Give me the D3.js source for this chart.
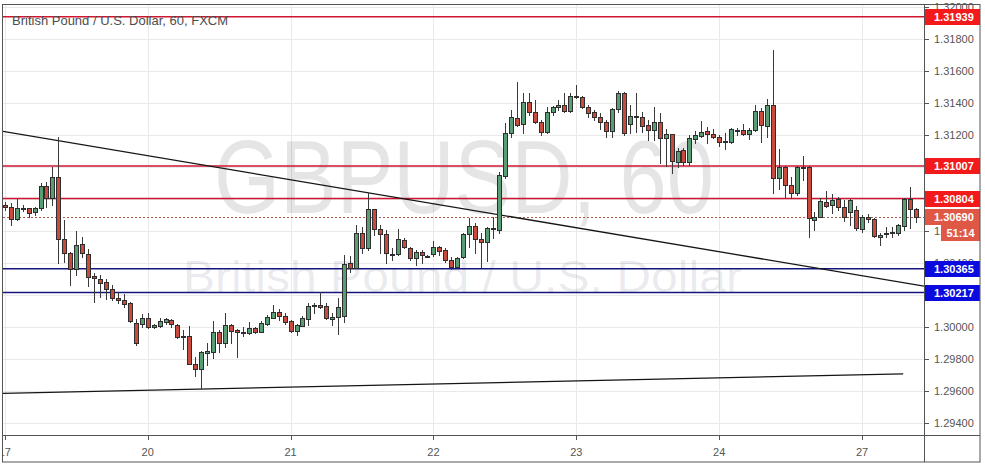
<!DOCTYPE html>
<html><head><meta charset="utf-8">
<script src="https://cdn.jsdelivr.net/npm/d3@7"></script>
<style>html,body{margin:0;padding:0;background:#fff;}svg{display:block;}</style>
</head><body>
<svg id="chart" width="985" height="467"></svg>
<script>
// ---------- DATA ----------
const title = "British Pound / U.S. Dollar, 60, FXCM";
const watermarkMain = "GBPUSD, 60";
const watermarkSub = "British Pound / U.S. Dollar";
const dayLabels = ["17", "20", "21", "22", "23", "24", "27"];
const dayStartIndex = [0, 24, 48, 72, 96, 120, 144];
const yTickValues = [1.294, 1.296, 1.298, 1.300, 1.302, 1.304, 1.306, 1.308, 1.310, 1.312, 1.314, 1.316, 1.318, 1.320];
const resistanceLevels = [1.31939, 1.31007, 1.30804];
const supportLevels = [1.30365, 1.30217];
const lastPrice = 1.30690;
const countdown = "51:14";
const trendDown = [[-0.8, 1.31226], [154.4, 1.30257]];
const trendUp = [[-0.3, 1.29587], [150.9, 1.29709]];

const opens = [1.30764,1.30753,1.30675,1.30742,1.30743,1.30718,1.30747,1.30883,1.30810,1.30941,
1.30550,1.30462,1.30364,1.30519,1.30456,1.30321,1.30302,1.30281,1.30238,1.30185,
1.30169,1.30150,1.30025,1.30021,1.30057,1.30000,1.30010,1.30035,1.30046,1.30015,
1.29948,1.29948,1.29769,1.29738,1.29842,1.29848,1.29969,1.29904,1.30015,1.29983,
1.29963,1.29963,1.29994,1.29973,1.30021,1.30060,1.30094,1.30069,1.30040,1.29979,
1.30010,1.30050,1.30133,1.30140,1.30133,1.30050,1.30063,1.30069,1.30400,1.30373,
1.30587,1.30494,1.30737,1.30612,1.30581,1.30460,1.30458,1.30546,1.30498,1.30435,
1.30472,1.30448,1.30458,1.30500,1.30483,1.30421,1.30375,1.30438,1.30583,1.30633,
1.30550,1.30535,1.30614,1.30608,1.30945,1.31212,1.31305,1.31268,1.31409,1.31347,
1.31284,1.31222,1.31347,1.31374,1.31388,1.31353,1.31445,1.31436,1.31374,1.31343,
1.31315,1.31280,1.31228,1.31362,1.31461,1.31270,1.31322,1.31312,1.31264,1.31232,
1.31284,1.31184,1.31205,1.31034,1.31107,1.31034,1.31174,1.31197,1.31226,1.31205,
1.31187,1.31162,1.31159,1.31230,1.31232,1.31205,1.31232,1.31351,1.31259,1.31388,
1.30931,1.31003,1.30889,1.30837,1.31003,1.31003,1.30670,1.30691,1.30785,1.30764,
1.30800,1.30750,1.30722,1.30733,1.30612,1.30691,1.30677,1.30566,1.30583,1.30589,
1.30587,1.30633,1.30801,1.30737];
const highs = [1.30785,1.30778,1.30800,1.30764,1.30745,1.30753,1.30903,1.30910,1.31003,1.31189,
1.30670,1.30470,1.30603,1.30562,1.30487,1.30338,1.30327,1.30302,1.30264,1.30223,
1.30206,1.30155,1.30050,1.30083,1.30088,1.30021,1.30057,1.30060,1.30050,1.30021,
1.29983,1.30008,1.29815,1.29850,1.29900,1.30042,1.29983,1.30092,1.30021,1.29990,
1.30000,1.30035,1.30004,1.30042,1.30077,1.30140,1.30113,1.30088,1.30046,1.30021,
1.30069,1.30150,1.30150,1.30223,1.30150,1.30088,1.30181,1.30452,1.30446,1.30639,
1.30629,1.30841,1.30740,1.30639,1.30608,1.30494,1.30612,1.30556,1.30504,1.30483,
1.30483,1.30452,1.30539,1.30508,1.30494,1.30438,1.30438,1.30587,1.30681,1.30650,
1.30587,1.30629,1.30691,1.30972,1.31274,1.31357,1.31534,1.31461,1.31461,1.31420,
1.31295,1.31378,1.31382,1.31420,1.31461,1.31461,1.31513,1.31445,1.31388,1.31357,
1.31337,1.31295,1.31368,1.31478,1.31470,1.31388,1.31461,1.31347,1.31295,1.31378,
1.31337,1.31239,1.31210,1.31118,1.31118,1.31201,1.31228,1.31290,1.31253,1.31237,
1.31201,1.31212,1.31243,1.31243,1.31270,1.31243,1.31388,1.31368,1.31424,1.31732,
1.31112,1.31007,1.30941,1.31007,1.31070,1.31010,1.30722,1.30806,1.30853,1.30833,
1.30812,1.30795,1.30800,1.30758,1.30702,1.30708,1.30680,1.30587,1.30629,1.30625,
1.30646,1.30806,1.30878,1.30743];
const lows = [1.30733,1.30639,1.30670,1.30728,1.30691,1.30702,1.30733,1.30753,1.30764,1.30400,
1.30410,1.30264,1.30327,1.30441,1.30260,1.30160,1.30188,1.30175,1.30171,1.30150,
1.30129,1.30035,1.29890,1.30004,1.29994,1.29994,1.30002,1.30021,1.30000,1.29932,
1.29863,1.29769,1.29697,1.29619,1.29765,1.29807,1.29848,1.29875,1.29900,1.29815,
1.29946,1.29959,1.29967,1.29969,1.30015,1.30057,1.30046,1.30021,1.29973,1.29952,
1.30008,1.30015,1.30088,1.30119,1.30050,1.30015,1.29959,1.30035,1.30348,1.30369,
1.30466,1.30483,1.30577,1.30462,1.30400,1.30421,1.30452,1.30494,1.30421,1.30390,
1.30400,1.30440,1.30446,1.30452,1.30410,1.30363,1.30369,1.30431,1.30504,1.30462,
1.30375,1.30416,1.30556,1.30589,1.30933,1.31190,1.31257,1.31212,1.31326,1.31274,
1.31201,1.31215,1.31326,1.31357,1.31347,1.31347,1.31430,1.31368,1.31315,1.31295,
1.31237,1.31190,1.31190,1.31347,1.31200,1.31212,1.31222,1.31222,1.31170,1.31170,
1.31024,1.31007,1.30962,1.31003,1.31014,1.31014,1.31149,1.31190,1.31149,1.31180,
1.31132,1.31114,1.31153,1.31201,1.31201,1.31176,1.31228,1.31159,1.31187,1.30837,
1.30862,1.30816,1.30808,1.30827,1.30920,1.30566,1.30608,1.30687,1.30753,1.30716,
1.30733,1.30666,1.30639,1.30608,1.30597,1.30660,1.30562,1.30514,1.30562,1.30566,
1.30577,1.30608,1.30618,1.30660];
const closes = [1.30750,1.30675,1.30743,1.30739,1.30712,1.30747,1.30883,1.30810,1.30941,1.30550,
1.30462,1.30364,1.30514,1.30462,1.30313,1.30306,1.30279,1.30238,1.30181,1.30169,
1.30148,1.30042,1.29900,1.30057,1.30000,1.30015,1.30038,1.30050,1.30021,1.29942,
1.29942,1.29769,1.29738,1.29844,1.29854,1.29973,1.29904,1.30015,1.29979,1.29969,
1.29969,1.29994,1.29973,1.30025,1.30063,1.30094,1.30069,1.30035,1.29979,1.30015,
1.30057,1.30133,1.30140,1.30125,1.30057,1.30063,1.30125,1.30396,1.30369,1.30587,
1.30494,1.30737,1.30612,1.30581,1.30462,1.30458,1.30550,1.30504,1.30431,1.30472,
1.30452,1.30446,1.30504,1.30479,1.30421,1.30375,1.30431,1.30583,1.30633,1.30550,
1.30531,1.30618,1.30620,1.30952,1.31212,1.31312,1.31264,1.31409,1.31347,1.31284,
1.31222,1.31347,1.31374,1.31388,1.31353,1.31445,1.31436,1.31374,1.31340,1.31315,
1.31280,1.31228,1.31362,1.31461,1.31212,1.31322,1.31312,1.31257,1.31232,1.31284,
1.31180,1.31205,1.31041,1.31101,1.31034,1.31180,1.31201,1.31218,1.31205,1.31190,
1.31159,1.31160,1.31237,1.31228,1.31205,1.31232,1.31351,1.31264,1.31388,1.30931,
1.31003,1.30889,1.30837,1.31003,1.30997,1.30681,1.30691,1.30791,1.30758,1.30795,
1.30753,1.30687,1.30795,1.30618,1.30691,1.30675,1.30571,1.30577,1.30589,1.30593,
1.30639,1.30801,1.30737,1.30690];

// ---------- LAYOUT ----------
const svg = d3.select("#chart");
const plotL = 3, plotR = 924, plotT = 5, plotB = 435, frameR = 980, frameB = 462;
const x = d3.scaleLinear().domain([-0.806, 154.4]).range([0, 924]);
const y = d3.scaleLinear().domain([1.29327, 1.32019]).range([435, 4]);
const fmt = d3.format(".5f");
const px = v => Math.round(v) + 0.5;

const FONT = "'Liberation Sans', Arial, sans-serif";
const gridCol = "#e9e9e9";
const upCol = "#5a9d74", downCol = "#c94b3d", edgeCol = "#2e2e2e";
const resCol = "#cf1530", resBox = "#f21a1a";
const supCol = "#15157f", supBox = "#0b0be0";
const lastCol = "#b25a45", lastBox = "#df5846";

svg.append("defs").append("clipPath").attr("id", "plotClip")
  .append("rect").attr("x", plotL).attr("y", plotT).attr("width", plotR - plotL).attr("height", plotB - plotT);

const plot = svg.append("g").attr("clip-path", "url(#plotClip)");

// grid
plot.append("g").selectAll("line").data(yTickValues).join("line")
  .attr("x1", plotL).attr("x2", plotR)
  .attr("y1", d => px(y(d))).attr("y2", d => px(y(d)))
  .attr("stroke", gridCol).attr("stroke-width", 1);
plot.append("g").selectAll("line").data(dayStartIndex).join("line")
  .attr("x1", d => px(x(d))).attr("x2", d => px(x(d)))
  .attr("y1", plotT).attr("y2", plotB)
  .attr("stroke", gridCol).attr("stroke-width", 1);

// watermark
plot.append("text").text(watermarkMain)
  .attr("x", 214).attr("y", 213)
  .attr("textLength", 500).attr("lengthAdjust", "spacingAndGlyphs")
  .attr("font-family", FONT).attr("font-size", 104)
  .attr("fill", "#000").attr("fill-opacity", 0.1);
plot.append("text").text(watermarkSub)
  .attr("x", 183).attr("y", 292)
  .attr("textLength", 559).attr("lengthAdjust", "spacingAndGlyphs")
  .attr("font-family", FONT).attr("font-size", 45)
  .attr("fill", "#20205a").attr("fill-opacity", 0.1);

// horizontal levels (slightly wider than 1px so the colour stays visible)
const levels = plot.append("g");
levels.selectAll("line.res").data(resistanceLevels).join("line").attr("class", "res")
  .attr("x1", plotL).attr("x2", plotR)
  .attr("y1", d => y(d)).attr("y2", d => y(d))
  .attr("stroke", resCol).attr("stroke-width", 1.4);
levels.selectAll("line.sup").data(supportLevels).join("line").attr("class", "sup")
  .attr("x1", plotL).attr("x2", plotR)
  .attr("y1", d => y(d)).attr("y2", d => y(d))
  .attr("stroke", supCol).attr("stroke-width", 1.4);
levels.append("line")
  .attr("x1", plotL).attr("x2", plotR)
  .attr("y1", px(y(lastPrice))).attr("y2", px(y(lastPrice)))
  .attr("stroke", lastCol).attr("stroke-width", 1).attr("stroke-dasharray", "2,2");

// trend lines
const tl = d3.line().x(d => x(d[0])).y(d => y(d[1]));
[trendDown, trendUp].forEach(t => {
  plot.append("path").attr("d", tl(t)).attr("fill", "none")
    .attr("stroke", "#151515").attr("stroke-width", 1.3);
});

// candles
const idx = d3.range(opens.length);
const cg = plot.append("g");
cg.selectAll("line").data(idx).join("line")
  .attr("x1", i => Math.round(x(i)) + 0.5).attr("x2", i => Math.round(x(i)) + 0.5)
  .attr("y1", i => Math.round(y(highs[i]))).attr("y2", i => Math.round(y(lows[i])) + 1)
  .attr("stroke", "#3a3a3a").attr("stroke-width", 1);
cg.selectAll("rect").data(idx).join("rect")
  .attr("x", i => Math.round(x(i)) - 1.5)
  .attr("width", 4)
  .attr("y", i => Math.round(y(Math.max(opens[i], closes[i]))) + 0.5)
  .attr("height", i => Math.max(1, Math.round(y(Math.min(opens[i], closes[i]))) - Math.round(y(Math.max(opens[i], closes[i])))))
  .attr("fill", i => closes[i] >= opens[i] ? upCol : downCol)
  .attr("stroke", edgeCol).attr("stroke-width", 1);

// title
svg.append("text").text(title)
  .attr("x", 12).attr("y", 25)
  .attr("font-family", FONT).attr("font-size", 13)
  .attr("fill", "#4d4d4d");

// right axis: tick labels hidden completely behind a price box are not drawn
const boxValues = resistanceLevels.concat(supportLevels, [lastPrice]);
const visibleTicks = yTickValues.filter(t => !boxValues.some(b => Math.abs(y(t) - y(b)) < 4));
const axisG = svg.append("g");
axisG.selectAll("line.tick").data(yTickValues).join("line").attr("class", "tick")
  .attr("x1", plotR).attr("x2", plotR + 5)
  .attr("y1", d => px(y(d))).attr("y2", d => px(y(d)))
  .attr("stroke", "#555");
axisG.selectAll("text").data(visibleTicks).join("text")
  .text(d => fmt(d))
  .attr("x", 934).attr("y", d => y(d) + 4)
  .attr("font-family", FONT).attr("font-size", 11).attr("fill", "#555");

// bottom axis
const xAxisG = svg.append("g");
xAxisG.selectAll("line").data(dayStartIndex).join("line")
  .attr("x1", d => px(x(d))).attr("x2", d => px(x(d)))
  .attr("y1", plotB).attr("y2", plotB + 5)
  .attr("stroke", "#555");
xAxisG.selectAll("text").data(dayLabels).join("text")
  .text(d => d)
  .attr("x", (d, k) => x(dayStartIndex[k]))
  .attr("y", 456)
  .attr("text-anchor", "middle")
  .attr("font-family", FONT).attr("font-size", 11).attr("fill", "#555");

// mask to the left of frame (clips label "17")
svg.append("rect").attr("x", 0).attr("y", 0).attr("width", 2.5).attr("height", 467).attr("fill", "#fff");

// price label boxes
function priceBox(v, fill) {
  const yc = y(v);
  svg.append("rect").attr("x", plotR + 1).attr("y", Math.round(yc) - 8)
    .attr("width", frameR - plotR - 1).attr("height", 16).attr("fill", fill);
  svg.append("text").text(fmt(v))
    .attr("x", 934).attr("y", yc + 4)
    .attr("font-family", FONT).attr("font-size", 11).attr("font-weight", "bold")
    .attr("fill", "#fff");
}
resistanceLevels.forEach(v => priceBox(v, resBox));
supportLevels.forEach(v => priceBox(v, supBox));
priceBox(lastPrice, lastBox);
// countdown box
const cy = Math.round(y(lastPrice)) + 8;
svg.append("rect").attr("x", 941).attr("y", cy).attr("width", frameR - 941).attr("height", 16).attr("fill", lastBox);
svg.append("text").text(countdown)
  .attr("x", (941 + frameR) / 2).attr("y", cy + 12)
  .attr("text-anchor", "middle")
  .attr("font-family", FONT).attr("font-size", 11).attr("font-weight", "bold")
  .attr("fill", "#fff");

// frame
svg.append("rect").attr("x", 2.5).attr("y", 4.5).attr("width", frameR - 2.5).attr("height", frameB - 4.5)
  .attr("fill", "none").attr("stroke", "#555").attr("stroke-width", 1);
svg.append("line").attr("x1", plotR + 0.5).attr("x2", plotR + 0.5).attr("y1", 4.5).attr("y2", frameB)
  .attr("stroke", "#555");
svg.append("line").attr("x1", 2.5).attr("x2", frameR).attr("y1", plotB + 0.5).attr("y2", plotB + 0.5)
  .attr("stroke", "#555");
</script>
</body></html>
